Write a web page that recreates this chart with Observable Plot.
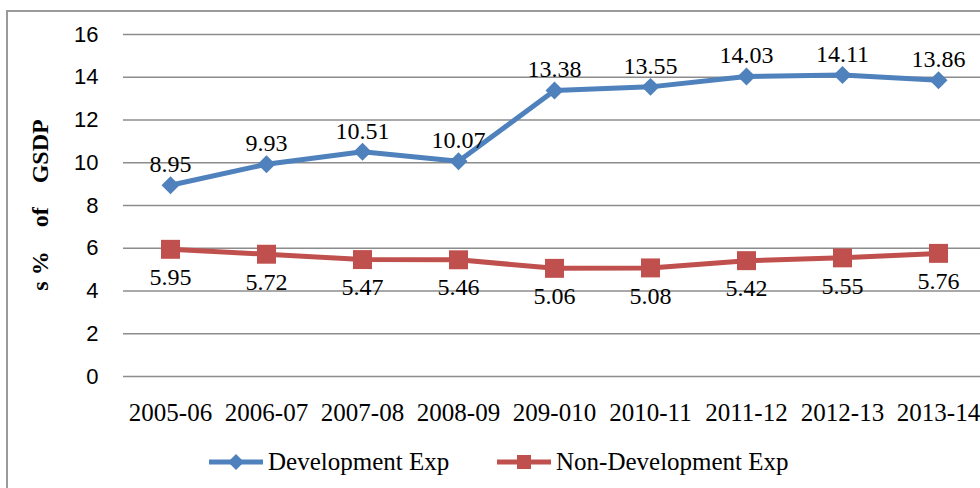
<!DOCTYPE html>
<html>
<head>
<meta charset="utf-8">
<script src="https://cdn.jsdelivr.net/npm/d3@7"></script>
<script src="https://cdn.jsdelivr.net/npm/@observablehq/plot@0.6"></script>
<style>
  body { margin: 0; background: #fff; }
  #wrap { position: relative; width: 980px; height: 488px; overflow: hidden; }
  #border { position: absolute; left: 6px; top: 10px; width: 1000px; height: 500px;
            border-left: 2px solid #9a9a9a; border-top: 2px solid #9a9a9a; }
  #chart { position: absolute; left: 0; top: 0; }
  #chart svg text { font-family: "Liberation Serif", "Times New Roman", serif !important; }
  #chart g[aria-label="y-axis tick label"] text {
    font-family: "Liberation Sans", Arial, sans-serif !important; }
  #ylabel { position: absolute; left: 40px; top: 205px; transform: translate(-50%, -50%) rotate(-90deg);
            white-space: pre; font-family: "Liberation Serif", "Times New Roman", serif;
            font-weight: bold; font-size: 24px; color: #000; line-height: 1; }
  #legend { position: absolute; top: 444px; left: 0; width: 980px; height: 36px;
            font-family: "Liberation Serif", "Times New Roman", serif; font-size: 25px; color: #000; }
  .item { position: absolute; top: 0; display: flex; align-items: center; height: 36px; }
  .item svg { margin-right: 4px; }
</style>
</head>
<body>
<div id="wrap">
  <div id="border"></div>
  <div id="chart"></div>
  <div id="ylabel"></div>
  <div id="legend"></div>
</div>
<script>
const years = ["2005-06","2006-07","2007-08","2008-09","209-010","2010-11","2011-12","2012-13","2013-14"];
const devExp = [8.95, 9.93, 10.51, 10.07, 13.38, 13.55, 14.03, 14.11, 13.86];
const nonDevExp = [5.95, 5.72, 5.47, 5.46, 5.06, 5.08, 5.42, 5.55, 5.76];
const yTicks = [0, 2, 4, 6, 8, 10, 12, 14, 16];
const seriesNames = ["Development Exp", "Non-Development Exp"];
const yLabel = "s %    of    GSDP";

const blue = "#4F81BD", red = "#C0504D";
const serif = "Liberation Serif";
const dev = years.map((y, i) => ({year: y, value: devExp[i], label: devExp[i].toFixed(2)}));
const non = years.map((y, i) => ({year: y, value: nonDevExp[i], label: nonDevExp[i].toFixed(2)}));

const plot = Plot.plot({
  width: 980,
  height: 488,
  marginLeft: 123,
  marginRight: 0,
  marginTop: 34,
  marginBottom: 112,
  style: {background: "transparent", overflow: "visible", fontFamily: serif},
  x: {type: "point", domain: years, range: [170, 938], padding: 0},
  y: {domain: [0, 16]},
  marks: [
    Plot.gridY(yTicks, {stroke: "#8c8c8c", strokeOpacity: 1, strokeWidth: 1.6}),
    Plot.axisY(yTicks, {tickSize: 0, tickPadding: 25, label: null, fontSize: 22, fill: "#000",
      fontFamily: "Liberation Sans"}),
    Plot.axisX({tickSize: 0, tickPadding: 27, label: null, fontSize: 25, fill: "#000", fontFamily: serif}),
    Plot.line(non, {x: "year", y: "value", stroke: red, strokeWidth: 5}),
    Plot.dot(non, {x: "year", y: "value", symbol: "square", r: 10.7, fill: red, stroke: "none"}),
    Plot.line(dev, {x: "year", y: "value", stroke: blue, strokeWidth: 5}),
    Plot.dot(dev, {x: "year", y: "value", symbol: "diamond2", r: 8.1, fill: blue, stroke: "none"}),
    Plot.text(dev, {x: "year", y: "value", text: "label", dy: -21, fontSize: 24, fill: "#000", fontFamily: serif}),
    Plot.text(non, {x: "year", y: "value", text: "label", dy: 28, fontSize: 24, fill: "#000", fontFamily: serif})
  ]
});
document.getElementById("chart").appendChild(plot);
document.getElementById("ylabel").textContent = yLabel;

// Legend
const legend = document.getElementById("legend");
const swatches = [
  {name: seriesNames[0], color: blue, shape: "diamond", left: 208},
  {name: seriesNames[1], color: red, shape: "square", left: 496}
];
swatches.forEach(s => {
  const item = document.createElement("div");
  item.className = "item";
  item.style.left = s.left + "px";
  const marker = s.shape === "diamond"
    ? `<path d="M27,9 L35,17 L27,25 L19,17 Z" fill="${s.color}"/>`
    : `<rect x="20" y="10" width="14" height="14" fill="${s.color}"/>`;
  item.innerHTML = `<svg width="56" height="34" viewBox="0 0 54 34"><line x1="0" y1="17" x2="54" y2="17" stroke="${s.color}" stroke-width="5"/>${marker}</svg><span>${s.name}</span>`;
  legend.appendChild(item);
});
</script>
</body>
</html>
